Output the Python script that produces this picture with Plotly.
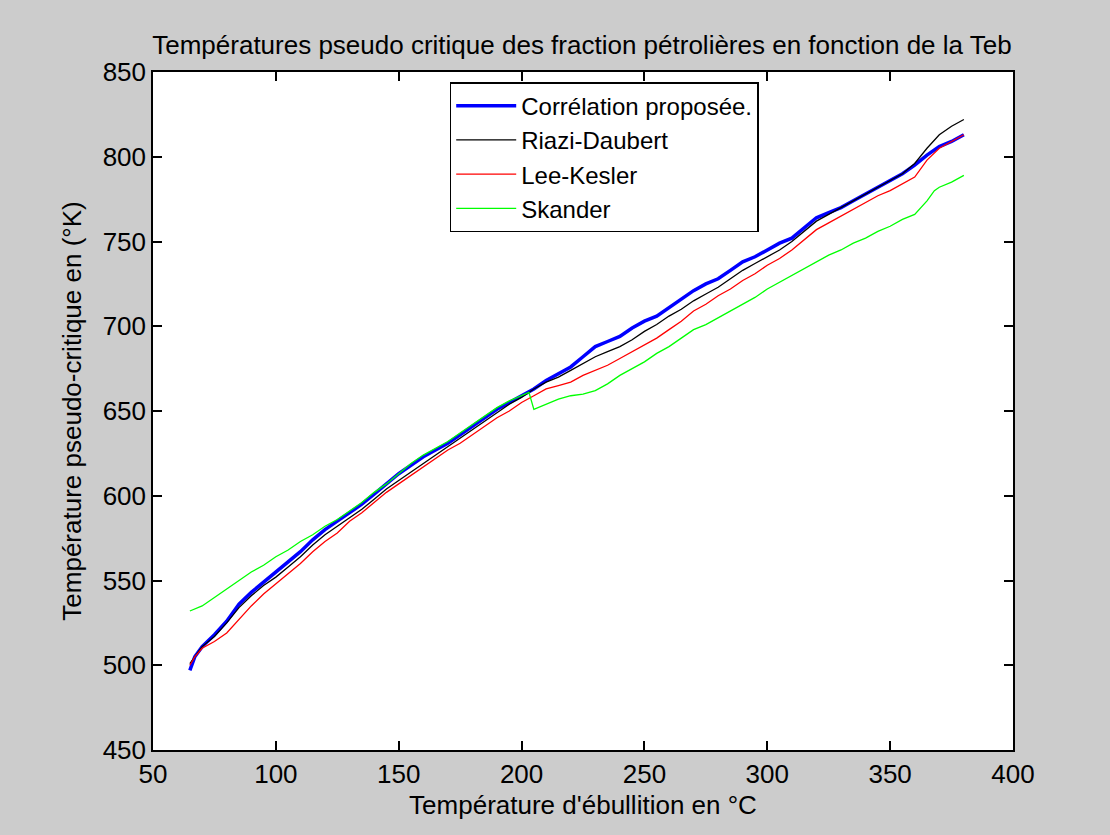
import plotly.graph_objects as go

x_blue = [65, 67, 70, 75, 80, 85, 90, 95, 100, 105, 110, 115, 120, 125, 130, 135, 140, 145, 150,
          155, 160, 165, 170, 175, 180, 185, 190, 195, 200, 205, 210, 215, 220, 225, 230, 235,
          240, 245, 250, 255, 260, 265, 270, 275, 280, 285, 290, 295, 300, 305, 310, 315, 320,
          325, 330, 335, 340, 345, 350, 355, 360, 365, 370, 375, 380]
y_blue = [497, 505, 511, 518, 526, 536, 543, 549, 555, 561, 567, 574, 580, 585, 590, 595, 601, 607, 613,
          618, 623, 627, 631, 636, 641, 646, 651, 655, 659, 663, 668, 672, 676, 682, 688, 691,
          694, 699, 703, 706, 711, 716, 721, 725, 728, 733, 738, 741, 745, 749, 752, 758, 764,
          767, 770, 774, 778, 782, 786, 790, 795, 801, 806, 809, 813]

x_black = x_blue
y_black = [501, 505, 511, 517, 525, 534, 541, 547, 552, 558, 564, 571, 577, 582, 587, 592, 598, 604, 609,
           614, 619, 624, 629, 634, 639, 644, 649, 654, 658, 663, 667, 670, 674, 678, 682, 685,
           688, 692, 697, 701, 706, 710, 715, 719, 723, 728, 733, 737, 741, 745, 750, 756, 762,
           766, 770, 774, 778, 782, 786, 790, 796, 805, 813, 818, 822]

x_red = x_blue
y_red = [500, 505, 510, 514, 519, 527, 535, 542, 548, 554, 560, 567, 573, 578, 585, 590, 596, 602, 607,
         612, 617, 622, 627, 631, 636, 641, 646, 650, 655, 659, 663, 665, 667, 671, 674, 677,
         681, 685, 689, 693, 698, 703, 709, 713, 718, 722, 727, 731, 736, 740, 745, 751, 757,
         761, 765, 769, 773, 777, 780, 784, 788, 798, 805, 809, 813]

x_green = [65, 70, 75, 80, 85, 90, 95, 100, 105, 110, 115, 120, 125, 130, 135, 140, 145, 150,
           155, 160, 165, 170, 175, 180, 185, 190, 195, 200, 203, 205, 210, 215, 220, 225, 230, 235,
           240, 245, 250, 255, 260, 265, 270, 275, 280, 285, 290, 295, 300, 305, 310, 315, 320,
           325, 330, 335, 340, 345, 350, 355, 360, 365, 368, 370, 375, 380]
y_green = [532, 535, 540, 545, 550, 555, 559, 564, 568, 573, 577, 582, 586, 591, 596, 602, 607, 613,
           619, 624, 628, 632, 637, 642, 647, 652, 656, 659, 661, 651, 654, 657, 659, 660, 662, 666,
           671, 675, 679, 684, 688, 693, 698, 701, 705, 709, 713, 717, 722, 726, 730, 734, 738,
           742, 745, 749, 752, 756, 759, 763, 766, 774, 780, 782, 785, 789]

FONT = "Liberation Sans, Arial, sans-serif"

fig = go.Figure()
fig.add_trace(go.Scatter(x=x_blue, y=y_blue, mode="lines", name="Corrélation proposée.",
                         line=dict(color="#0000ff", width=3.5)))
fig.add_trace(go.Scatter(x=x_black, y=y_black, mode="lines", name="Riazi-Daubert",
                         line=dict(color="#000000", width=1.3)))
fig.add_trace(go.Scatter(x=x_red, y=y_red, mode="lines", name="Lee-Kesler",
                         line=dict(color="#ff0000", width=1.3)))
fig.add_trace(go.Scatter(x=x_green, y=y_green, mode="lines", name="Skander",
                         line=dict(color="#00ff00", width=1.3)))

axis_common = dict(showgrid=False, zeroline=False, showline=True, linecolor="black", linewidth=1.5,
                   mirror="ticks", ticks="inside", ticklen=9, tickwidth=1.5, tickcolor="black",
                   tickfont=dict(family=FONT, size=26, color="black"), dtick=50)

fig.update_layout(
    width=1110, height=835,
    paper_bgcolor="#cccccc", plot_bgcolor="white",
    margin=dict(l=153, r=97, t=72, b=85),
    font=dict(family=FONT, size=26, color="black"),
    title=dict(text="Températures pseudo critique des fraction pétrolières en fonction de la Teb",
               x=0.5243, xanchor="center", y=1 - 45 / 835, yanchor="middle", yref="container",
               font=dict(family=FONT, size=26, color="black")),
    xaxis=dict(range=[50, 400], title=dict(text="Température d'ébullition en °C", standoff=8,
                                           font=dict(family=FONT, size=26)), **axis_common),
    yaxis=dict(range=[450, 850], title=dict(text="Température pseudo-critique en (°K)", standoff=14,
                                            font=dict(family=FONT, size=26)), **axis_common),
    legend=dict(x=0.345, y=0.985, xanchor="left", yanchor="top", bgcolor="white",
                bordercolor="black", borderwidth=1.5, font=dict(family=FONT, size=24),
                itemwidth=60, tracegroupgap=0, entrywidth=270, entrywidthmode="pixels"),
    showlegend=True,
)

fig.write_html("out.html")
